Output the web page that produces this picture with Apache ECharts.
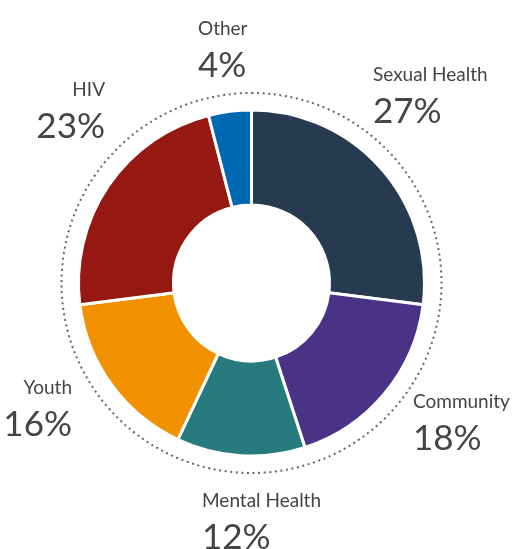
<!DOCTYPE html>
<html>
<head>
<meta charset="utf-8">
<script src="https://cdn.jsdelivr.net/npm/echarts@6/dist/echarts.min.js"></script>
<style>html,body{margin:0;padding:0;background:#fff;}#c{width:519px;height:549px;}</style>
</head>
<body>
<div id="c"></div>
<script>
var categories = ['Sexual Health', 'Community', 'Mental Health', 'Youth', 'HIV', 'Other'];
var values = [27, 18, 12, 16, 23, 4];
var colors = ['#263b50', '#4a3287', '#277a7d', '#f29100', '#951812', '#0068b3'];
// label anchor layout (x, top y, alignment)
var labelPos = [
  {x: 373, y: 62, align: 'left'},
  {x: 413, y: 389, align: 'left'},
  {x: 202, y: 488, align: 'left'},
  {x: 72, y: 375, align: 'right'},
  {x: 105, y: 77, align: 'right'},
  {x: 198, y: 16, align: 'left'}
];
var chart = echarts.init(document.getElementById('c'), null, {renderer: 'canvas'});
var data = categories.map(function (c, i) {
  return {name: c, value: values[i], itemStyle: {color: colors[i]}};
});
chart.setOption({
  backgroundColor: '#fff',
  animation: false,
  series: [
    {
      type: 'pie',
      silent: true,
      z: 1,
      center: [251.5, 283],
      radius: [0, 190],
      label: {show: false},
      labelLine: {show: false},
      itemStyle: {color: 'rgba(0,0,0,0)', borderColor: '#666', borderWidth: 2, borderType: [2, 3.6]},
      data: [{value: 1, name: ''}]
    },
    {
      type: 'pie',
      z: 2,
      center: [251.5, 283],
      radius: [78, 173],
      startAngle: 90,
      clockwise: true,
      itemStyle: {borderColor: '#fff', borderWidth: 3},
      labelLine: {show: false},
      label: {
        show: true,
        position: 'outside',
        overflow: 'none',
        formatter: function (p) { return '{n|' + p.name + '}\n{p|' + p.value + '%}'; },
        rich: {
          n: {fontFamily: 'Lato', fontSize: 19, color: '#444', lineHeight: 26},
          p: {fontFamily: 'Lato', fontSize: 35, color: '#444', lineHeight: 48}
        }
      },
      labelLayout: function (params) {
        var lp = labelPos[params.dataIndex];
        return {x: lp.x, y: lp.y, align: lp.align, verticalAlign: 'top'};
      },
      data: data
    }
  ]
});
</script>
</body>
</html>
